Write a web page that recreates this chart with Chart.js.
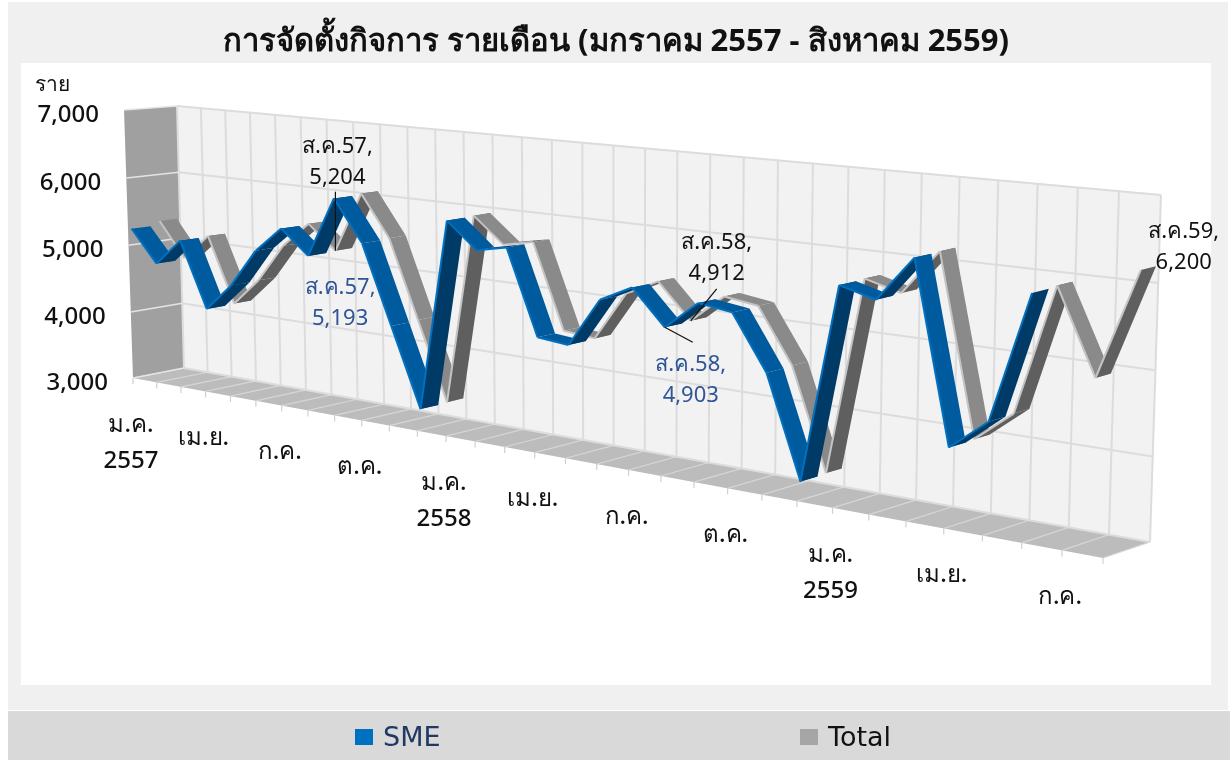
<!DOCTYPE html>
<html>
<head>
<meta charset="utf-8">
<script src="https://cdn.jsdelivr.net/npm/chart.js@4"></script>
<style>
  html, body { margin: 0; padding: 0; background: #fff; }
  canvas { display: block; }
</style>
</head>
<body>
<canvas id="grafico" width="1232" height="760"></canvas>
<script>
const mesesCurtos = ['ม.ค.', 'ก.พ.', 'มี.ค.', 'เม.ย.', 'พ.ค.', 'มิ.ย.', 'ก.ค.', 'ส.ค.', 'ก.ย.', 'ต.ค.', 'พ.ย.', 'ธ.ค.'];
const categories = [];
['57', '58', '59'].forEach(ano => mesesCurtos.forEach(m => categories.push(m + ano)));
categories.length = 32;

const smeValues = [5240, 4770, 5160, 4210, 4610, 5165, 5530, 5193, 6045, 5470, 4380, 3290, 5925, 5575, 5665, 4530,
  4490, 5140, 5355, 4903, 5270, 5210, 4520, 3235, 5715, 5595, 6150, 3960, 4340, 5900, null, null];
const totalValues = [5300, 4790, 5170, 4220, 4620, 5175, 5540, 5204, 6060, 5480, 4390, 3300, 5935, 5590, 5675, 4540,
  4500, 5150, 5365, 4912, 5280, 5220, 4530, 3245, 5725, 5605, 6160, 3970, 4350, 5915, 4905, 6200];
const xTickIndex = [0, 3, 6, 9, 12, 15, 18, 21, 24, 27, 30];
const xTickLabels = [['ม.ค.', '2557'], ['เม.ย.'], ['ก.ค.'], ['ต.ค.'], ['ม.ค.', '2558'], ['เม.ย.'], ['ก.ค.'], ['ต.ค.'], ['ม.ค.', '2559'], ['เม.ย.'], ['ก.ค.']];

const FONTE = '"Noto Sans", "DejaVu Sans", sans-serif';

// corners of the 3D box on screen: bottom-left, bottom-right, top-right, top-left
const planoFrente = [[133, 378], [1103, 558], [1115, 205], [124, 110]];
const planoFundo = [[184, 368], [1150, 542], [1161, 195], [177, 106]];

function homografia(q) {
  const [[x0, y0], [x1, y1], [x2, y2], [x3, y3]] = q;
  const dx1 = x1 - x2, dx2 = x3 - x2, sx = x0 - x1 + x2 - x3;
  const dy1 = y1 - y2, dy2 = y3 - y2, sy = y0 - y1 + y2 - y3;
  const det = dx1 * dy2 - dx2 * dy1;
  const g = (sx * dy2 - dx2 * sy) / det, h = (dx1 * sy - sx * dy1) / det;
  const a = x1 - x0 + g * x1, b = x3 - x0 + h * x3;
  const d = y1 - y0 + g * y1, e = y3 - y0 + h * y3;
  return (u, v) => {
    const w = g * u + h * v + 1;
    return [(a * u + b * v + x0) / w, (d * u + e * v + y0) / w];
  };
}
const hFrente = homografia(planoFrente);
const hFundo = homografia(planoFundo);

// chart pixel (from the scales) + depth 0..1 -> screen pixel
function projetar(chart, px, py, prof) {
  const area = chart.chartArea;
  const u = (px - area.left) / area.width;
  const v = (area.bottom - py) / area.height;
  const f = hFrente(u, v), b = hFundo(u, v);
  return [f[0] + (b[0] - f[0]) * prof, f[1] + (b[1] - f[1]) * prof];
}

function poligono(ctx, pts, cor) {
  ctx.beginPath();
  pts.forEach((p, i) => i ? ctx.lineTo(p[0], p[1]) : ctx.moveTo(p[0], p[1]));
  ctx.closePath();
  ctx.fillStyle = cor;
  ctx.fill();
}

function linha(ctx, a, b, cor, larg) {
  ctx.beginPath();
  ctx.moveTo(a[0], a[1]);
  ctx.lineTo(b[0], b[1]);
  ctx.strokeStyle = cor;
  ctx.lineWidth = larg;
  ctx.stroke();
}

function desenhaCaixa(chart, ctx) {
  const sx = chart.scales.x, sy = chart.scales.y;
  const P = (x, y, d) => projetar(chart, x, y, d);
  const l = sx.left, r = sx.right, t = sy.top, b = sy.bottom;

  poligono(ctx, [P(l, b, 1), P(r, b, 1), P(r, t, 1), P(l, t, 1)], '#f2f2f2');
  poligono(ctx, [P(l, b, 0), P(l, b, 1), P(l, t, 1), P(l, t, 0)], '#a0a0a0');
  poligono(ctx, [P(l, b, 0), P(r, b, 0), P(r, b, 1), P(l, b, 1)], '#bcbcbc');

  categories.forEach((c, i) => {
    const x = sx.getPixelForValue(i);
    linha(ctx, P(x, b, 1), P(x, t, 1), '#dcdcdc', 2);
    linha(ctx, P(x, b, 0), P(x, b, 1), '#d6d6d6', 1.2);
    const f = P(x, b, 0);
    linha(ctx, f, [f[0], f[1] + 6], '#d0d0d0', 1.2);
  });
  sy.ticks.forEach(tk => {
    const y = sy.getPixelForValue(tk.value);
    linha(ctx, P(l, y, 1), P(r, y, 1), '#dcdcdc', 2);
    linha(ctx, P(l, y, 0), P(l, y, 1), '#e4e4e4', 1.5);
  });
}

function desenhaFita(chart, ctx, idx, d0, d1, corDesce, corSobe, corBorda) {
  const sx = chart.scales.x, sy = chart.scales.y;
  const dados = chart.data.datasets[idx].data;
  for (let i = 0; i < dados.length - 1; i++) {
    if (dados[i] === null || dados[i + 1] === null) continue;
    const xa = sx.getPixelForValue(i), xb = sx.getPixelForValue(i + 1);
    const ya = sy.getPixelForValue(dados[i]), yb = sy.getPixelForValue(dados[i + 1]);
    const a0 = projetar(chart, xa, ya, d0), b0 = projetar(chart, xb, yb, d0);
    const a1 = projetar(chart, xa, ya, d1), b1 = projetar(chart, xb, yb, d1);
    poligono(ctx, [a0, b0, b1, a1], dados[i + 1] > dados[i] ? corSobe : corDesce);
    linha(ctx, a0, b0, corBorda, 2);
  }
}

function texto(ctx, str, x, y, fonte, cor, alinhar) {
  ctx.font = fonte;
  ctx.fillStyle = cor;
  ctx.textAlign = alinhar || 'center';
  ctx.textBaseline = 'middle';
  ctx.fillText(str, x, y);
}

const profundidade = [[0.07, 0.43], [0.61, 0.94]];
const rotulos = [
  { serie: 1, i: 7, linhas: ['ส.ค.57,', '5,204'], dx: 2, dy: -104, lider: [0, -59], cor: '#111111' },
  { serie: 0, i: 7, linhas: ['ส.ค.57,', '5,193'], dx: 32, dy: 32, cor: '#2f5597' },
  { serie: 1, i: 19, linhas: ['ส.ค.58,', '4,912'], dx: 26, dy: -78, lider: [26, -32], cor: '#111111' },
  { serie: 0, i: 19, linhas: ['ส.ค.58,', '4,903'], dx: 26, dy: 37, lider: [28, 15], cor: '#2f5597' },
  { serie: 1, i: 31, linhas: ['ส.ค.59,', '6,200'], dx: 43, dy: -38, cor: '#111111' }
];
const legendaPos = [{ box: 355, txt: 383, cor: '#1f3864' }, { box: 800, txt: 828, cor: '#111111' }];

const fundoPlugin = {
  id: 'fundo',
  beforeDraw(chart) {
    const ctx = chart.ctx;
    ctx.save();
    ctx.fillStyle = '#ffffff';
    ctx.fillRect(0, 0, 1232, 760);
    ctx.fillStyle = '#f0f0f0';
    ctx.fillRect(8, 2, 1220, 708);
    ctx.fillStyle = '#ffffff';
    ctx.fillRect(21, 63, 1190, 622);
    ctx.fillStyle = '#d9d9d9';
    ctx.fillRect(8, 711, 1222, 49);
    ctx.restore();
  },
  afterDatasetsDraw(chart) {
    const ctx = chart.ctx, sx = chart.scales.x, sy = chart.scales.y;
    ctx.save();
    desenhaCaixa(chart, ctx);
    desenhaFita(chart, ctx, 1, profundidade[1][0], profundidade[1][1], '#8a8a8a', '#5f5f5f', '#c4c4c4');
    desenhaFita(chart, ctx, 0, profundidade[0][0], profundidade[0][1], '#005a9e', '#003a66', '#0070c0');

    sy.ticks.forEach(tk => {
      const p = projetar(chart, sx.left, sy.getPixelForValue(tk.value), 0);
      texto(ctx, tk.value.toLocaleString('en-US'), p[0] - 25, p[1] + 5, '500 24px ' + FONTE, '#111111', 'right');
    });
    texto(ctx, 'ราย', 35, 85, '500 21px ' + FONTE, '#111111', 'left');

    xTickIndex.forEach((idx, k) => {
      const p = projetar(chart, sx.getPixelForValue(idx), sy.bottom, 0);
      xTickLabels[k].forEach((s, n) => texto(ctx, s, p[0] - 2, p[1] + 47 + n * 36, '500 24px ' + FONTE, '#111111'));
    });

    rotulos.forEach(r => {
      const v = chart.data.datasets[r.serie].data[r.i];
      const p = projetar(chart, sx.getPixelForValue(r.i), sy.getPixelForValue(v), profundidade[r.serie][0]);
      if (r.lider) linha(ctx, p, [p[0] + r.lider[0], p[1] + r.lider[1]], '#111111', 1.2);
      r.linhas.forEach((s, n) => texto(ctx, s, p[0] + r.dx, p[1] + r.dy + n * 31, '22px ' + FONTE, r.cor));
    });

    chart.data.datasets.forEach((ds, i) => {
      ctx.fillStyle = ds.backgroundColor;
      ctx.fillRect(legendaPos[i].box, 729, 18, 16);
      texto(ctx, ds.label, legendaPos[i].txt, 739, '500 27px "DejaVu Sans", sans-serif', legendaPos[i].cor, 'left');
    });
    ctx.restore();
  }
};

new Chart(document.getElementById('grafico').getContext('2d'), {
  type: 'line',
  data: {
    labels: categories,
    datasets: [
      { label: 'SME', data: smeValues, backgroundColor: '#0070c0', borderColor: 'transparent', borderWidth: 0, pointRadius: 0 },
      { label: 'Total', data: totalValues, backgroundColor: '#a6a6a6', borderColor: 'transparent', borderWidth: 0, pointRadius: 0 }
    ]
  },
  options: {
    responsive: false,
    animation: false,
    layout: { padding: { top: 10, left: 30, right: 30, bottom: 60 } },
    scales: {
      x: { display: false, offset: false },
      y: { display: false, min: 3000, max: 7000, ticks: { stepSize: 1000 } }
    },
    plugins: {
      tooltip: { enabled: false },
      legend: { display: false },
      title: {
        display: true,
        text: 'การจัดตั้งกิจการ รายเดือน (มกราคม 2557 - สิงหาคม 2559)',
        color: '#111111',
        font: { family: FONTE, size: 31, weight: 'bold' },
        padding: { top: 14, bottom: 10 }
      }
    }
  },
  plugins: [fundoPlugin]
});
</script>
</body>
</html>
